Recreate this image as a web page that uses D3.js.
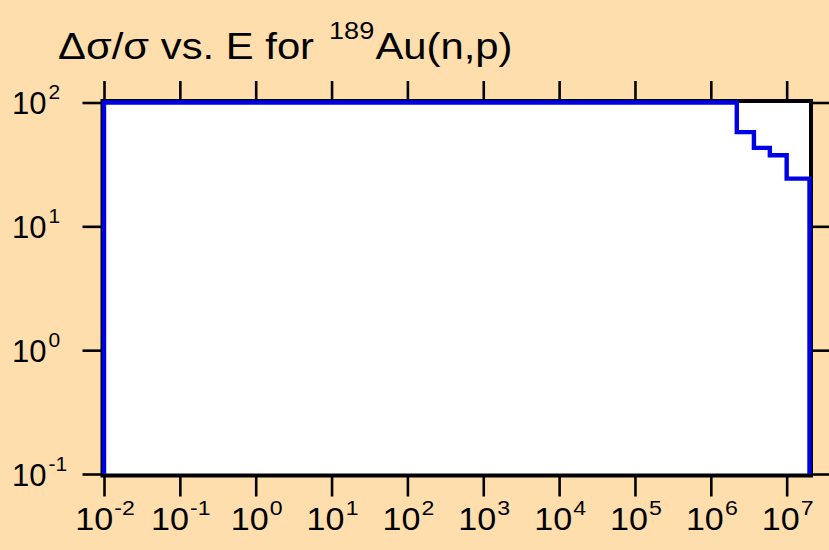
<!DOCTYPE html>
<html>
<head>
<meta charset="utf-8">
<script src="https://cdn.jsdelivr.net/npm/d3@7"></script>
<style>
  html, body { margin: 0; padding: 0; background: #FFDEAD; }
  svg { display: block; }
  text { font-family: "Liberation Sans", Arial, Helvetica, sans-serif; fill: #000; }
</style>
</head>
<body>
<script>
// ---- data ----
const energyEdges = [1e-2, 2.2e6, 3.7e6, 6e6, 1e7, 2e7];   // bin edges (eV)
const relUncertainty = [100, 57.6, 43, 37.5, 24.3];        // Δσ/σ (%) per bin
const xTickExponents = [-2, -1, 0, 1, 2, 3, 4, 5, 6, 7];
const yTickExponents = [-1, 0, 1, 2];
const yDomain = [0.1, 100];
const xDomain = [1e-2, 2e7];

// ---- layout ----
const W = 829, H = 550;
const area = { left: 104, right: 809.5, top: 102.5, bottom: 474 };   // data area
const pad = 1.5;                                                      // frame sits just outside
const frame = { left: area.left - pad, right: area.right + pad, top: area.top - pad, bottom: area.bottom + pad };

const svg = d3.select("body").append("svg").attr("width", W).attr("height", H);
svg.append("rect").attr("width", W).attr("height", H).attr("fill", "#FFDEAD");

const x = d3.scaleLog().domain(xDomain).range([area.left, area.right]);
const y = d3.scaleLog().domain(yDomain).range([area.bottom, area.top]);

// plot background
svg.append("rect")
  .attr("x", frame.left).attr("y", frame.top)
  .attr("width", frame.right - frame.left).attr("height", frame.bottom - frame.top)
  .attr("fill", "#fff");

// ticks (outward on all four sides)
const tickLen = 20;
const xTicks = xTickExponents.map(e => Math.pow(10, e));
const yTicks = yTickExponents.map(e => Math.pow(10, e));
function styleAxis(g) {
  g.select(".domain").remove();
  g.selectAll(".tick line").attr("stroke", "#000").attr("stroke-width", 2.6);
  g.selectAll(".tick text").remove();
}
svg.append("g").attr("transform", `translate(0,${frame.bottom})`)
  .call(d3.axisBottom(x).tickValues(xTicks).tickSize(tickLen + 1).tickFormat(() => "")).call(styleAxis);
svg.append("g").attr("transform", `translate(0,${frame.top})`)
  .call(d3.axisTop(x).tickValues(xTicks).tickSize(tickLen).tickFormat(() => "")).call(styleAxis);
svg.append("g").attr("transform", `translate(${frame.left},0)`)
  .call(d3.axisLeft(y).tickValues(yTicks).tickSize(tickLen).tickFormat(() => "")).call(styleAxis);
svg.append("g").attr("transform", `translate(${frame.right},0)`)
  .call(d3.axisRight(y).tickValues(yTicks).tickSize(tickLen).tickFormat(() => "")).call(styleAxis);

// frame
svg.append("rect")
  .attr("x", frame.left).attr("y", frame.top)
  .attr("width", frame.right - frame.left).attr("height", frame.bottom - frame.top)
  .attr("fill", "none").attr("stroke", "#000").attr("stroke-width", 4);

// step line
const pts = [[energyEdges[0], yDomain[0]]];
relUncertainty.forEach((v, i) => {
  pts.push([energyEdges[i], v]);
  pts.push([energyEdges[i + 1], v]);
});
pts.push([energyEdges[energyEdges.length - 1], yDomain[0]]);

svg.append("path")
  .attr("d", d3.line().x(d => x(d[0])).y(d => y(d[1]))(pts))
  .attr("fill", "none").attr("stroke", "#0000e6").attr("stroke-width", 4.4)
  .attr("stroke-linejoin", "miter").attr("stroke-linecap", "butt");

// tick labels with superscript exponents
const labelSize = 31, supSize = 21;
xTickExponents.forEach(e => {
  const t = svg.append("text")
    .attr("transform", `translate(${x(Math.pow(10, e)) + 1},530) scale(1.1,1)`)
    .attr("text-anchor", "middle").style("font-size", labelSize + "px");
  t.append("tspan").text("10");
  t.append("tspan").attr("dx", 1).attr("dy", -15).style("font-size", supSize + "px").text(String(e));
});
yTickExponents.forEach(e => {
  const t = svg.append("text")
    .attr("x", 12).attr("y", y(Math.pow(10, e)) + 11.5)
    .attr("text-anchor", "start").style("font-size", labelSize + "px");
  t.append("tspan").text("10");
  t.append("tspan").attr("dx", 2).attr("dy", -15).style("font-size", supSize + "px").text(String(e));
});

// title
const title = svg.append("text")
  .attr("transform", "translate(58,59) scale(1.13,1)")
  .style("font-size", "37px");
title.append("tspan").text("\u0394\u03c3/\u03c3 vs. E for ");
title.append("tspan").attr("dx", 3).attr("dy", -20).style("font-size", "24px").text("189");
title.append("tspan").attr("dx", 1).attr("dy", 20).text("Au(n,p)");
</script>
</body>
</html>
